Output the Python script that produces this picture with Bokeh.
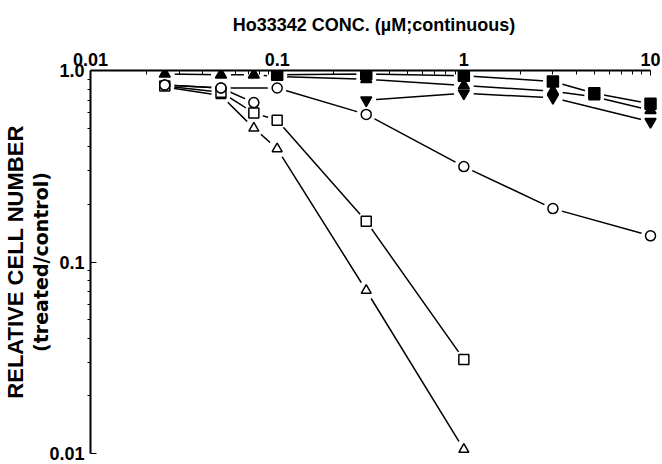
from bokeh.plotting import figure
from bokeh.models import Range1d, FixedTicker, Title
from bokeh.embed import file_html
from bokeh.resources import INLINE

# ---- data ----
x_open_tri = [0.025, 0.05, 0.075, 0.1, 0.3, 1]
y_open_tri = [0.82, 0.74, 0.50, 0.39, 0.071, 0.0105]

x_open_sq = [0.025, 0.05, 0.075, 0.1, 0.3, 1]
y_open_sq = [0.83, 0.77, 0.60, 0.55, 0.163, 0.031]

x_open_circ_a = [0.025, 0.05, 0.1, 0.3, 1, 3, 10]
y_open_circ_a = [0.84, 0.81, 0.81, 0.59, 0.315, 0.19, 0.137]

x_open_circ_b = [0.025, 0.05, 0.075]
y_open_circ_b = [0.84, 0.81, 0.68]

x_fill_tri = [0.025, 0.05, 0.075, 0.1, 0.3, 1, 3, 5, 10]
y_fill_tri = [0.96, 0.95, 0.95, 0.93, 0.90, 0.835, 0.78, 0.73, 0.62]

x_fill_sq = [0.1, 0.3, 1, 3, 5, 10]
y_fill_sq = [0.95, 0.96, 0.94, 0.877, 0.76, 0.67]

x_fill_inv = [0.3, 1, 3, 10]
y_fill_inv = [0.70, 0.76, 0.72, 0.54]

x_major = [0.01, 0.1, 1, 10]
x_labels = {0.01: "0.01", 0.1: "0.1", 1: "1", 10: "10"}
y_major = [0.01, 0.1, 1.0]
y_labels = {0.01: "0.01", 0.1: "0.1", 1.0: "1.0"}

x_title = "Ho33342 CONC. (µM;continuous)"
y_title = "RELATIVE CELL NUMBER"
y_subtitle = "(treated/control)"

# axis extents (data) and a little room on the right so end markers are not clipped
x_start, x_end, x_view_end = 0.01, 10, 10.9
y_start, y_end = 0.01, 1.0

# minor tick positions on the log axes
def minors(lo_exp, hi_exp):
    return [m * 10.0 ** e for e in range(lo_exp, hi_exp) for m in range(2, 10)]

p = figure(width=662, height=464,
           x_axis_type="log", y_axis_type="log", x_axis_location="above",
           x_range=Range1d(x_start, x_view_end), y_range=Range1d(y_start, y_end),
           output_backend="svg", toolbar_location=None,
           min_border_left=83, min_border_top=70, min_border_right=5, min_border_bottom=11)
p.outline_line_color = None
p.xgrid.visible = False
p.ygrid.visible = False
p.background_fill_color = "white"
p.border_fill_color = "white"

series = [
    (x_open_tri, y_open_tri, "triangle", "white", 10),
    (x_open_sq, y_open_sq, "square", "white", 10),
    (x_open_circ_a, y_open_circ_a, "circle", "white", 10),
    (x_open_circ_b, y_open_circ_b, "circle", "white", 10),
    (x_fill_tri, y_fill_tri, "triangle", "black", 11),
    (x_fill_sq, y_fill_sq, "square", "black", 11),
    (x_fill_inv, y_fill_inv, "inverted_triangle", "black", 11),
]

for xs, ys, m, fc, s in series:
    p.line(xs, ys, line_color="black", line_width=1.5)
for xs, ys, m, fc, s in series:
    p.scatter(xs, ys, marker="circle", size=s + 9, fill_color="white", line_color=None)
for xs, ys, m, fc, s in series:
    p.scatter(xs, ys, marker=m, size=s, fill_color=fc, line_color="black", line_width=1.5)

tick_font = "Liberation Sans"

xa = p.xaxis[0]
xa.bounds = (x_start, x_end)
xa.ticker = FixedTicker(ticks=x_major, minor_ticks=minors(-2, 1))
xa.major_label_overrides = x_labels
xa.major_label_text_font = tick_font
xa.major_label_text_font_style = "bold"
xa.major_label_text_font_size = "18px"
xa.major_label_text_color = "black"
xa.major_label_standoff = 5
xa.major_tick_in = 5
xa.major_tick_out = 0
xa.minor_tick_in = 4
xa.minor_tick_out = 0
xa.axis_line_width = 2
xa.axis_line_color = "black"
xa.axis_label = x_title
xa.axis_label_text_font = "Liberation Sans"
xa.axis_label_text_font_style = "bold"
xa.axis_label_text_font_size = "18px"
xa.axis_label_text_color = "black"
xa.axis_label_standoff = 15

ya = p.yaxis[0]
ya.ticker = FixedTicker(ticks=y_major, minor_ticks=minors(-2, 0))
ya.major_label_overrides = y_labels
ya.major_label_text_font = tick_font
ya.major_label_text_font_style = "bold"
ya.major_label_text_font_size = "18px"
ya.major_label_text_color = "black"
ya.major_label_standoff = 3
ya.major_tick_in = 6
ya.major_tick_out = 0
ya.minor_tick_in = 0
ya.minor_tick_out = 3
ya.axis_line_width = 2
ya.axis_line_color = "black"
ya.axis_label = y_subtitle
ya.axis_label_text_font = "DejaVu Sans"
ya.axis_label_text_font_style = "bold"
ya.axis_label_text_font_size = "19px"
ya.axis_label_text_color = "black"
ya.axis_label_standoff = -6

t = Title(text=y_title, align="center", text_font="Liberation Sans",
          text_font_style="bold", text_font_size="22px", text_color="black",
          standoff=0, offset=-12)
p.add_layout(t, "left")

open("out.html", "w").write(file_html(p, INLINE))
